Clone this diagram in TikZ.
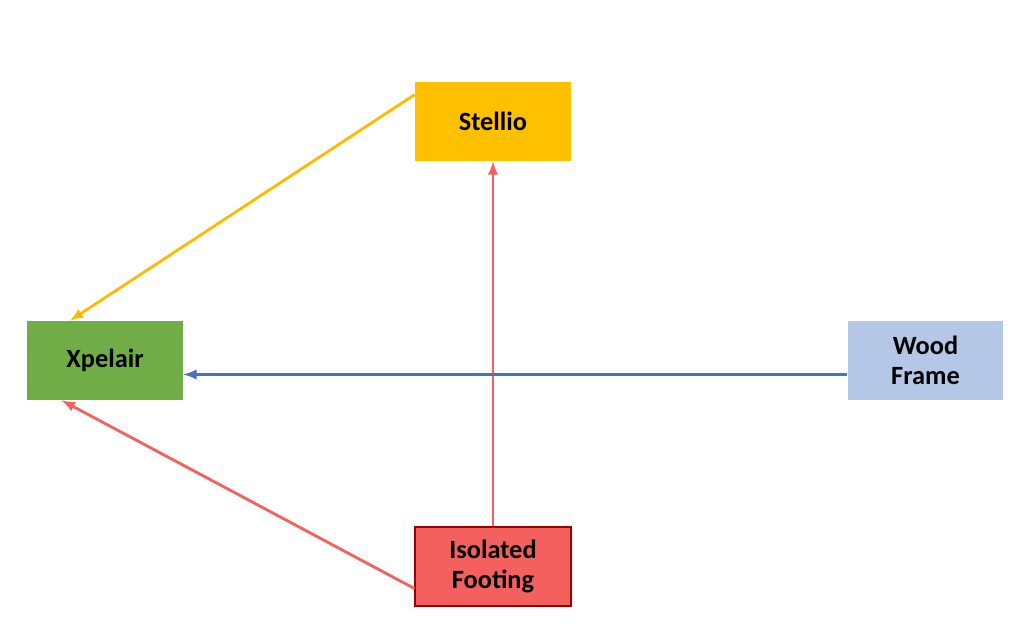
\documentclass[tikz,border=0pt]{standalone}
\usepackage{fontspec}
\setmainfont{Carlito}
\usetikzlibrary{positioning}
\definecolor{stelliocol}{HTML}{FFC000}
\definecolor{xpelaircol}{HTML}{70AD47}
\definecolor{woodcol}{HTML}{B4C7E7}
\definecolor{footcol}{HTML}{F4605E}
\definecolor{bluecol}{HTML}{4472C4}
\begin{document}
\begin{tikzpicture}[x=0.02cm,y=-0.02cm,
	box/.style={minimum width=3.12cm, minimum height=1.58cm, align=center, font=\fontsize{15}{17}\selectfont\bfseries, inner sep=0pt},
	link/.style={-latex, line width=1.6pt}]
	\useasboundingbox (0,0) rectangle (1024,634);
	\node[box, fill=stelliocol] (stellio) at (493,121.5) {Stellio};
	\node[box, fill=xpelaircol] (xpelair) at (105,360.5) {Xpelair};
	\node[box, fill=woodcol] (wood) at (925.5,360.5) {Wood\\Frame};
	\node[box, fill=footcol, draw=red!60!black, line width=0.6pt] (footing) at (493,566.5) {Isolated\\Footing};
	\draw[link, stelliocol!90!orange] ([yshift=-0.26cm]stellio.north west) -- ([xshift=-0.7cm]xpelair.north);
	\draw[link, footcol] (footing.north) -- (stellio.south);
	\draw[link, footcol] ([yshift=0.36cm]footing.south west) -- ([xshift=0.7cm]xpelair.south west);
	\draw[link, bluecol] ([yshift=-0.28cm]wood.west) -- ([yshift=-0.28cm]xpelair.east);
\end{tikzpicture}
\end{document}
